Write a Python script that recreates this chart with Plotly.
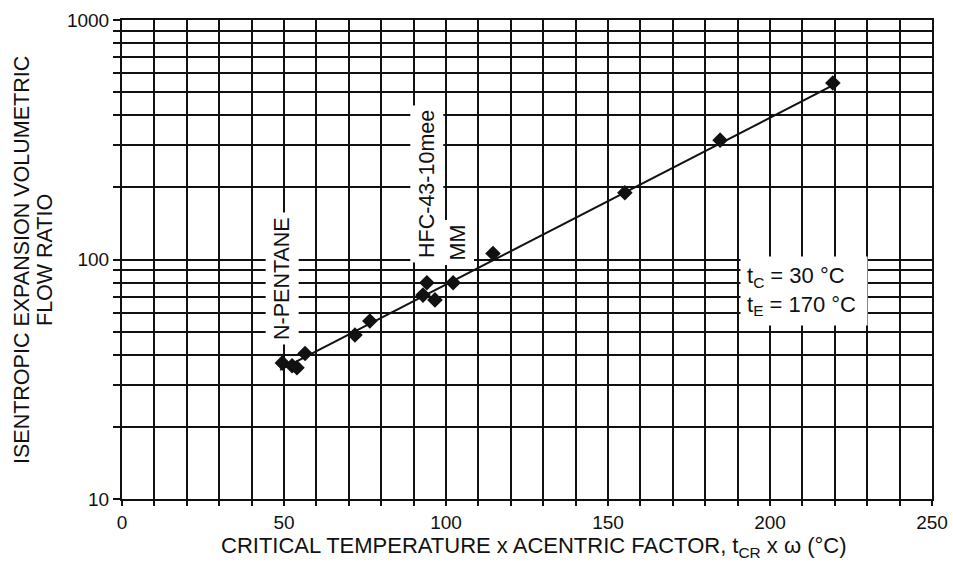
import numpy as np
import plotly.graph_objects as go

# Measured fluids: critical temperature x acentric factor (°C) vs. isentropic
# expansion volumetric flow ratio
tcr_omega = [49.5, 52.5, 54.0, 56.5, 71.9, 76.5, 92.9, 94.1, 96.6, 102.2,
             114.5, 155.2, 184.6, 219.4]
flow_ratio = [37.0, 36.0, 35.3, 40.5, 48.4, 55.4, 71.0, 80.0, 67.8, 80.0,
              106.0, 190.0, 315.0, 546.0]

# Fitted trend line (straight on the semi-log axes)
fit_x = [48.8, 220.4]
fit_y = [34.6, 542.0]

# Axis ticks
x_ticks = list(range(0, 251, 10))
x_ticklabels = [str(v) if v % 50 == 0 else "" for v in x_ticks]
y_ticks = [m * 10 ** e for e in (1, 2) for m in range(1, 10)] + [1000]
y_ticklabels = [str(v) if v in (10, 100, 1000) else "" for v in y_ticks]

FONT = "Liberation Sans, Arial, Helvetica, sans-serif"
INK = "#111111"

fig = go.Figure()

fig.add_trace(go.Scatter(
    x=fit_x, y=fit_y, mode="lines",
    line=dict(color=INK, width=2), hoverinfo="skip", showlegend=False,
))
fig.add_trace(go.Scatter(
    x=tcr_omega, y=flow_ratio, mode="markers",
    marker=dict(symbol="diamond", size=12, color=INK, line=dict(width=0)),
    showlegend=False,
))

axis_common = dict(
    showgrid=True, gridcolor=INK, gridwidth=2,
    showline=True, linecolor=INK, linewidth=2, mirror=True,
    ticks="outside", tickcolor=INK, tickwidth=2,
    tickfont=dict(family=FONT, size=19, color=INK),
    zeroline=False, automargin=False,
)

fig.update_xaxes(
    range=[0, 250], tickmode="array", tickvals=x_ticks, ticktext=x_ticklabels,
    ticklen=5, **axis_common,
)
fig.update_yaxes(
    type="log", range=[1, 3], tickmode="array", tickvals=y_ticks,
    ticktext=y_ticklabels, ticklen=7, **axis_common,
)

annotations = []

# Axis titles
annotations.append(dict(
    text="CRITICAL TEMPERATURE x ACENTRIC FACTOR, t<sub>CR</sub> x ω (°C)",
    xref="paper", yref="paper", x=(534 - 122) / 810, y=(499 - 547) / 479,
    xanchor="center", yanchor="middle", showarrow=False,
    font=dict(family=FONT, size=22, color=INK),
))
for text, xp in (("ISENTROPIC EXPANSION VOLUMETRIC", 22), ("FLOW RATIO", 45)):
    annotations.append(dict(
        text=text, textangle=-90,
        xref="paper", yref="paper",
        x=(xp - 122) / 810, y=(499 - 260) / 479,
        xanchor="center", yanchor="middle", showarrow=False,
        font=dict(family=FONT, size=21.5, color=INK),
    ))

# Fluid labels on white boxes
label_font = dict(family=FONT, size=21.5, color=INK)
for text, x, y in (("N-PENTANE", 49.4, 1.919),
                   ("HFC-43-10mee", 94.1, 2.315),
                   ("MM", 103.4, 2.071)):
    annotations.append(dict(
        text=text, textangle=-90, x=x, y=y, xref="x", yref="y",
        xanchor="center", yanchor="middle", showarrow=False,
        bgcolor="white", borderpad=4, font=label_font,
    ))

# Operating conditions
annotations.append(dict(
    text="t<sub>C</sub> = 30 °C<br>t<sub>E</sub> = 170 °C",
    x=210.6, y=1.8685, xref="x", yref="y", xanchor="center", yanchor="middle",
    showarrow=False, align="left", bgcolor="white", borderpad=6,
    width=114, font=dict(family=FONT, size=22, color=INK),
))

fig.update_layout(
    width=953, height=563,
    margin=dict(l=122, r=21, t=20, b=64),
    paper_bgcolor="white", plot_bgcolor="white",
    font=dict(family=FONT, color=INK),
    annotations=annotations,
)

fig.write_html("out.html")
